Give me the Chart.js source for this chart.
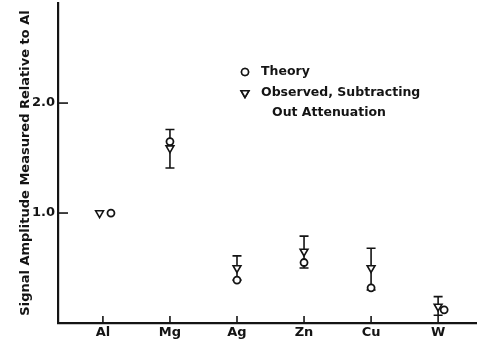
<!DOCTYPE html>
<html>
<head>
<meta charset="utf-8">
<script src="https://cdn.jsdelivr.net/npm/chart.js@4.4.1/dist/chart.umd.min.js"></script>
<style>
html,body{margin:0;padding:0;background:#fff;}
canvas{display:block;}
</style>
</head>
<body>
<canvas id="c" width="477" height="347"></canvas>
<script>
// ---- data ----
const categories = ['Al', 'Mg', 'Ag', 'Zn', 'Cu', 'W'];
const theory = [1.0, 1.65, 0.39, 0.55, 0.32, 0.12];
const observed = [1.0, 1.59, 0.50, 0.65, 0.50, 0.15];
const errHigh = [null, 1.76, 0.61, 0.79, 0.68, 0.24];
const errLow = [null, 1.41, 0.39, 0.50, 0.30, 0.07];
const theoryShift = [0.12, 0, 0, 0, 0, 0.09];
const observedShift = [-0.05, 0, 0, 0, 0, 0];
const yTicks = [1.0, 2.0];
const yTitle = 'Signal Amplitude Measured Relative to Al';
const legendTheory = 'Theory';
const legendObserved = ['Observed, Subtracting', 'Out Attenuation'];

const INK = '#141414';
const FONT = 'DejaVu Sans, Verdana, sans-serif';

const theoryPts = theory.map((v, i) => ({x: i + theoryShift[i], y: v}));
const observedPts = observed.map((v, i) => ({x: i + observedShift[i], y: v}));

const extras = {
  id: 'extras',
  beforeDatasetsDraw(chart) {
    const {ctx, scales: {x, y}} = chart;
    ctx.save();
    ctx.strokeStyle = INK;
    ctx.lineWidth = 1.6;
    errHigh.forEach((hi, i) => {
      if (hi == null) return;
      const px = x.getPixelForValue(i + observedShift[i]);
      const pt = y.getPixelForValue(hi), pb = y.getPixelForValue(errLow[i]);
      ctx.beginPath();
      ctx.moveTo(px, pt); ctx.lineTo(px, pb);
      ctx.moveTo(px - 4.5, pt); ctx.lineTo(px + 4.5, pt);
      ctx.moveTo(px - 4.5, pb); ctx.lineTo(px + 4.5, pb);
      ctx.stroke();
    });
    ctx.restore();
  },
  afterDraw(chart) {
    const {ctx, scales: {x, y}, chartArea} = chart;
    ctx.save();
    ctx.strokeStyle = INK;
    ctx.lineWidth = 1.6;
    // inward tick marks
    categories.forEach((c, i) => {
      const px = x.getPixelForValue(i);
      ctx.beginPath();
      ctx.moveTo(px, chartArea.bottom); ctx.lineTo(px, chartArea.bottom - 7);
      ctx.stroke();
    });
    yTicks.forEach(v => {
      const py = y.getPixelForValue(v);
      ctx.beginPath();
      ctx.moveTo(chartArea.left, py); ctx.lineTo(chartArea.left + 10, py);
      ctx.stroke();
    });
    // legend
    const opts = {pointStyle: 'circle', radius: 3.5, borderWidth: 1.6, rotation: 0};
    ctx.fillStyle = '#fff';
    Chart.helpers.drawPoint(ctx, opts, 245, 72);
    ctx.fill(); ctx.stroke();
    const topts = {pointStyle: 'triangle', radius: 4.5, borderWidth: 1.6, rotation: 180};
    Chart.helpers.drawPoint(ctx, topts, 245, 93);
    ctx.fill(); ctx.stroke();
    ctx.fillStyle = INK;
    ctx.font = 'bold 12.5px ' + FONT;
    ctx.textBaseline = 'middle';
    ctx.textAlign = 'left';
    ctx.fillText(legendTheory, 261, 72);
    ctx.fillText(legendObserved[0], 261, 93);
    ctx.fillText(legendObserved[1], 272, 113);
    ctx.restore();
  }
};

new Chart(document.getElementById('c'), {
  type: 'scatter',
  data: {
    datasets: [
      {
        label: legendObserved.join(' '),
        data: observedPts,
        pointStyle: 'triangle',
        rotation: 180,
        radius: 4.5,
        borderWidth: 1.6,
        borderColor: INK,
        backgroundColor: '#fff'
      },
      {
        label: legendTheory,
        data: theoryPts,
        pointStyle: 'circle',
        radius: 3.5,
        borderWidth: 1.8,
        borderColor: INK,
        backgroundColor: '#fff'
      }
    ]
  },
  options: {
    responsive: false,
    animation: false,
    layout: {autoPadding: false, padding: {top: 3, right: 0, left: 0, bottom: 0}},
    plugins: {legend: {display: false}, tooltip: {enabled: false}},
    scales: {
      x: {
        type: 'linear',
        min: -0.67,
        max: 5.58,
        grid: {display: false, drawTicks: false},
        border: {display: true, color: INK, width: 2.2},
        afterBuildTicks(s) { s.ticks = categories.map((c, i) => ({value: i})); },
        afterFit(s) { s.height = 24; s.paddingLeft = 0; s.paddingRight = 0; },
        ticks: {
          autoSkip: false,
          maxRotation: 0,
          padding: 2,
          color: INK,
          font: {family: FONT, size: 13, weight: 'bold'},
          callback: v => categories[v]
        }
      },
      y: {
        type: 'linear',
        min: 0,
        max: 2.91,
        grid: {display: false, drawTicks: false},
        border: {display: true, color: INK, width: 2.2},
        afterBuildTicks(s) { s.ticks = yTicks.map(v => ({value: v})); },
        afterFit(s) { s.width = 58; s.paddingTop = 0; s.paddingBottom = 0; },
        ticks: {
          padding: 3,
          color: INK,
          font: {family: FONT, size: 13, weight: 'bold'},
          callback: v => v.toFixed(1)
        },
        title: {
          display: true,
          text: yTitle,
          color: INK,
          padding: {top: 18, bottom: 0},
          font: {family: FONT, size: 13, weight: 'bold'}
        }
      }
    }
  },
  plugins: [extras]
});
</script>
</body>
</html>
